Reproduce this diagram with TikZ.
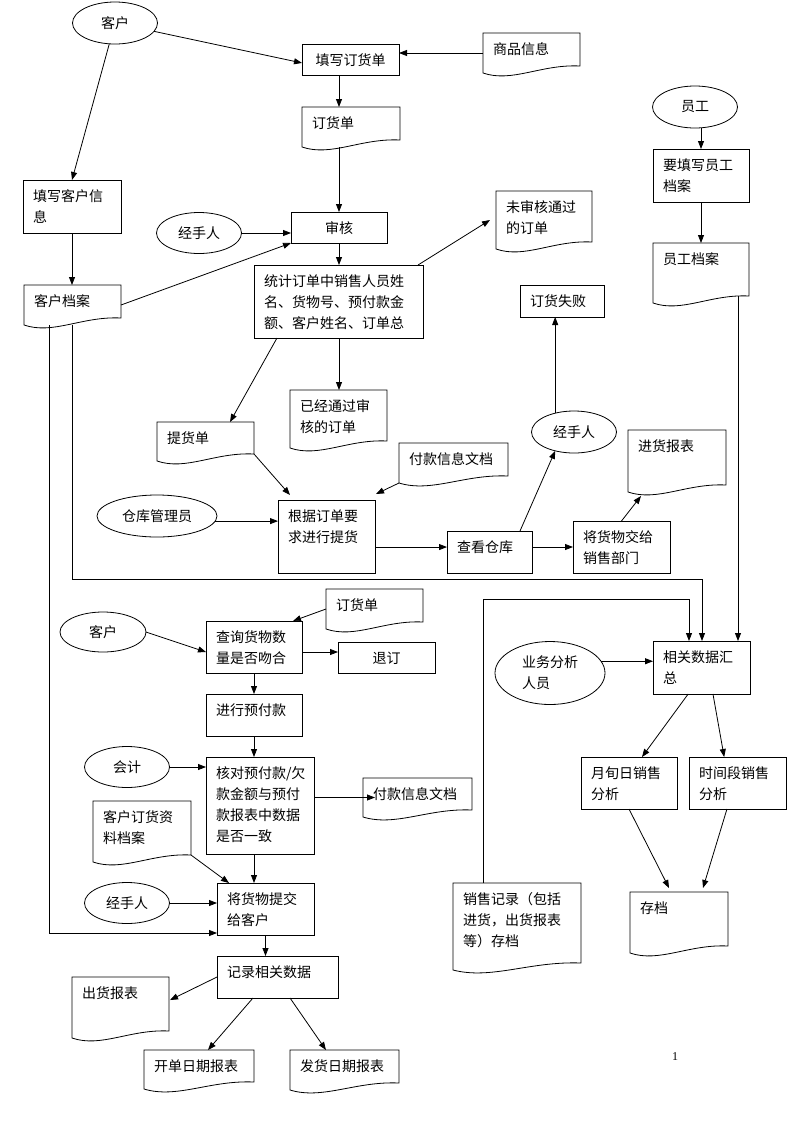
\documentclass[tikz,border=0pt]{standalone}
\usepackage{fontspec}
\setmainfont{Noto Sans CJK SC}
\newfontfamily\latinfont{Liberation Serif}
\usepackage{tikz}
\usetikzlibrary{arrows.meta, shapes.geometric, calc}
\tikzset{
		every node/.style={font=\fontsize{10.5pt}{15.75pt}\selectfont},
		boxsize/.code 2 args={%
			\pgfmathsetmacro\boxw{(#1-20)*0.75}%
			\pgfmathsetmacro\boxd{#2*0.75-21}%
			\edef\boxkeys{\noexpand\pgfkeysalso{text width=\boxw pt, text depth=\boxd pt}}\boxkeys},
		process/.style={draw, rectangle, anchor=north west, align=left, outer sep=0pt,
			inner xsep=7.5pt, inner ysep=5pt, text height=11pt},
		docbox/.style={process, draw=none, append after command={\pgfextra{
			\draw (\tikzlastnode.north west) -- (\tikzlastnode.north east)
				-- ([yshift=5.25pt]\tikzlastnode.south east)
				.. controls ($(\tikzlastnode.south west)!0.6!(\tikzlastnode.south east)+(0,6.75pt)$)
				and ($(\tikzlastnode.south west)!0.3!(\tikzlastnode.south east)+(0,-7.5pt)$)
				.. (\tikzlastnode.south west) -- cycle;}}},
		actor/.style 2 args={draw, ellipse, align=left, inner sep=0pt, outer sep=0pt,
			minimum width=#1*0.75pt, minimum height=#2*0.75pt}
	}
\begin{document}
\begin{tikzpicture}[x=0.75pt, y=-0.75pt, line width=0.6pt, >={Triangle[length=6pt, width=4.5pt]}]
		\path[fill=white, use as bounding box] (0,0) rectangle (800,1132);

		% ordering and checking
		\node[actor={85}{42}]                          (kh1)   at (115,23)  {客户};
		\node[process, boxsize={97}{31}, align=center] (txdhd) at (302,44)  {填写订货单};
		\node[docbox, boxsize={97}{40}]                (spxx)  at (483,33)  {商品信息};
		\node[docbox, boxsize={98}{40}]                (dhd1)  at (302,107) {订货单};
		\node[process, boxsize={98}{53}]               (txkh)  at (23,180)  {填写客户信\\息};
		\node[docbox, boxsize={97}{40}]                (khda)  at (24,285)  {客户档案};
		\node[actor={85}{41}]                          (jsr1)  at (199,233) {经手人};
		\node[process, boxsize={96}{31}, align=center] (sh)    at (291,212) {审核};
		\node[process, boxsize={169}{73}]              (tj)    at (254,265) {统计订单中销售人员姓\\名、货物号、预付款金\\额、客户姓名、订单总};
		\node[docbox, boxsize={96}{58}]                (wsh)   at (496,191) {未审核通过\\的订单};
		\node[docbox, boxsize={97}{58}]                (ytg)   at (290,390) {已经通过审\\核的订单};
		\node[docbox, boxsize={97}{39}]                (thd)   at (157,422) {提货单};
		\node[docbox, boxsize={109}{40}]               (fk1)   at (399,443) {付款信息文档};
		\node[actor={120}{42}]                         (ckgl)  at (157,516) {仓库管理员};
		\node[process, boxsize={97}{73}]               (gj)    at (278,500) {根据订单要\\求进行提货};
		\node[process, boxsize={85}{42}]               (ckck)  at (447,531) {查看仓库};
		\node[actor={85}{42}]                          (jsr2)  at (574,432) {经手人};
		\node[process, boxsize={84}{32}]               (dhsb)  at (520,285) {订货失败};
		\node[process, boxsize={97}{52}]               (jhxs)  at (573,521) {将货物交给\\销售部门};
		\node[docbox, boxsize={98}{62}]                (jhbb)  at (628,430) {进货报表};

		% staff
		\node[actor={85}{42}]                          (yg)    at (695,107) {员工};
		\node[process, boxsize={96}{53}]               (txyg)  at (653,149) {要填写员工\\档案};
		\node[docbox, boxsize={96}{60}]                (ygda)  at (653,243) {员工档案};

		% delivery
		\node[actor={86}{40}]                          (kh2)   at (103,632) {客户};
		\node[docbox, boxsize={97}{40}]                (dhd2)  at (326,589) {订货单};
		\node[process, boxsize={96}{52}]               (cx)    at (206,621) {查询货物数\\量是否吻合};
		\node[process, boxsize={97}{31}, align=center] (td)    at (338,642) {退订};
		\node[process, boxsize={96}{42}]               (yfk)   at (206,694) {进行预付款};
		\node[actor={85}{41}]                          (kj)    at (127,767) {会计};
		\node[process, boxsize={108}{97}]              (hd)    at (206,757) {核对预付款/欠\\款金额与预付\\款报表中数据\\是否一致};
		\node[docbox, boxsize={109}{39}]               (fk2)   at (363,778) {付款信息文档};
		\node[docbox, boxsize={98}{61}]                (khdh)  at (93,801)  {客户订货资\\料档案};
		\node[actor={85}{41}]                          (jsr3)  at (127,903) {经手人};
		\node[process, boxsize={97}{52}]               (tjkh)  at (217,883) {将货物提交\\给客户};
		\node[process, boxsize={121}{42}]              (jl)    at (217,956) {记录相关数据};
		\node[docbox, boxsize={97}{61}]                (chbb)  at (72,977)  {出货报表};
		\node[docbox, boxsize={110}{39}]               (kdbb)  at (144,1050) {开单日期报表};
		\node[docbox, boxsize={109}{40}]               (fhbb)  at (290,1050) {发货日期报表};

		% analysis
		\node[actor={110}{63}]                         (ywfx)  at (550,673) {业务分析\\人员};
		\node[process, boxsize={97}{53}]               (hz)    at (653,641) {相关数据汇\\总};
		\node[process, boxsize={96}{52}]               (yxr)   at (581,757) {月旬日销售\\分析};
		\node[process, boxsize={97}{52}]               (sjd)   at (689,757) {时间段销售\\分析};
		\node[docbox, boxsize={98}{61}]                (cd)    at (630,892) {存档};
		\node[docbox, boxsize={128}{87}]               (xsjl)  at (453,883) {销售记录（包括\\进货，出货报表\\等）存档};

		\node[font=\latinfont\fontsize{9pt}{9pt}\selectfont] (pg) at (675,1057) {1};

		\coordinate (c1) at (702,579);
		\coordinate (c2) at (689,599);
		\coordinate (c3) at ([shift={(-8.25pt,5.25pt)}]ygda.south east);

		\draw[->] (kh1) -- ([yshift=-2.6pt]txdhd.west);
		\draw[->] (kh1) -- (txkh.north);
		\draw[->] (spxx.west) -- (spxx.west -| txdhd.east);
		\draw[->] (txdhd.south -| sh) -- (dhd1.north -| sh);
		\draw[->] (dhd1.south -| sh) -- (sh.north);
		\draw[->] (jsr1.east) -- (jsr1.east -| sh.west);
		\draw[->] (khda.east) -- (sh.south west);
		\draw[->] (txkh.south) -- (txkh.south |- khda.north);
		\draw[->] (sh.south) -- (sh.south |- tj.north);
		\draw[->] (tj.south -| sh) -- (ytg.north -| sh);
		\draw[->] ([xshift=-3.75pt]tj.north east) -- ([xshift=-4.5pt]wsh.west);
		\draw[->] ([xshift=17.25pt]tj.south west) -- ([xshift=18.4pt]thd.north);
		\draw[->] ([yshift=5.25pt]thd.south east) -- ([shift={(9pt,3.75pt)}]gj.north west);
		\draw[->] (fk1.south west) -- ([shift={(0.75pt,4.5pt)}]gj.north east);
		\draw[->] (ckgl.-5) -- (ckgl.-5 -| gj.west);
		\draw[->] ([yshift=-7.9pt]gj.east) -- ([yshift=-7.9pt]gj.east -| ckck.west);
		\draw[->] (ckck.east |- jhxs.west) -- (jhxs.west);
		\draw[->] ([xshift=-9pt]ckck.north east) -- (jsr2.225);
		\draw[->] (jsr2.135) -- (jsr2.135 |- dhsb.south);
		\draw[->] (jhxs.north) -- ([shift={(9.75pt,-3pt)}]jhbb.south west);

		\draw[->] (yg.south -| txyg.north) -- (txyg.north);
		\draw[->] (txyg.south) -- (ygda.north);
		\draw[->] (c3) -- (c3 |- hz.north);
		\draw[->] (khda.south) |- (c1) -- (c1 |- hz.north);
		\draw[->] ([xshift=18.75pt]khda.south west) |- ([yshift=1.5pt]tjkh.south west);

		\draw[->] (kh2.east) -- ([yshift=-3.75pt]cx.west);
		\draw[->] (dhd2.west) -- ([xshift=-6.75pt]cx.north east);
		\draw[->] ([yshift=-3.75pt]cx.east) -- ([yshift=-3.75pt]cx.east -| td.west);
		\draw[->] (cx.south) -- (yfk.north);
		\draw[->] (yfk.south) -- (yfk.south |- hd.north);
		\draw[->] (kj.east) -- (kj.east -| hd.west);
		\draw[->] (hd.east |- fk2.west) -- ([xshift=9pt]fk2.west);
		\draw[->] (hd.south -| yfk) -- (yfk |- tjkh.north);
		\draw[->] ([yshift=5.25pt]khdh.south east) -- ([xshift=9pt]tjkh.north west);
		\draw[->] (jsr3.east) -- (jsr3.east -| tjkh.west);
		\draw[->] (tjkh.south) -- (tjkh.south |- jl.north);
		\draw[->] (jl.west) -- ([shift={(0.75pt,5.6pt)}]chbb.east);
		\draw[->] ([xshift=-18.4pt]jl.south) -- ([xshift=6.75pt]kdbb.north);
		\draw[->] ([xshift=9.4pt]jl.south) -- ([xshift=-13.9pt]fhbb.north);

		\draw[->] ([xshift=22.5pt]xsjl.north west) |- (c2) -- (c2 |- hz.north);
		\draw[->] (ywfx.13) -- (ywfx.13 -| hz.west);
		\draw[->] ([xshift=-10pt]hz.south) -- ([xshift=9.75pt]yxr.north);
		\draw[->] ([xshift=8.6pt]hz.south) -- ([xshift=-10pt]sjd.north);
		\draw[->] (yxr.south) -- ([shift={(-7.5pt,3pt)}]cd.north);
		\draw[->] ([xshift=-7.9pt]sjd.south) -- ([shift={(18pt,3pt)}]cd.north);

	\end{tikzpicture}
\end{document}
